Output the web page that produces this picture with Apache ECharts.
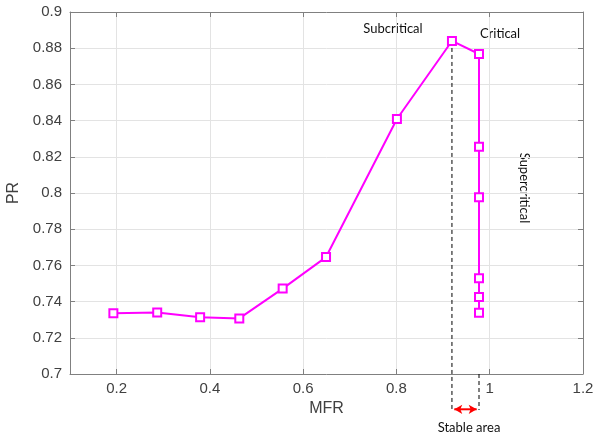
<!DOCTYPE html>
<html>
<head>
<meta charset="utf-8">
<script src="https://cdn.jsdelivr.net/npm/echarts@6/dist/echarts.min.js"></script>
<style>html,body{margin:0;padding:0;background:#fff}#c{width:595px;height:435px}</style>
</head>
<body>
<div id="c"></div>
<script>
// Data
const mfr = [0.193, 0.287, 0.379, 0.463, 0.556, 0.649, 0.801, 0.919, 0.977, 0.977, 0.977, 0.977, 0.977, 0.977];
const pr  = [0.7335, 0.7340, 0.7313, 0.7307, 0.7472, 0.7646, 0.8409, 0.8840, 0.8768, 0.8255, 0.7976, 0.7529, 0.7425, 0.7338];
const xTicks = [0.2, 0.4, 0.6, 0.8, 1.0, 1.2];
const subcriticalLineX = 0.919;
const criticalLineX = 0.977;
const peakPR = 0.884;
const annotationBottom = 0.6801;
const arrowY = 0.6805;
const arrowEnds = [0.924, 0.972];

const chart = echarts.init(document.getElementById('c'));
const axisColor = '#808080';
const labelColor = '#404040';
const font = 'Liberation Sans';

const points = mfr.map((x, i) => [x, pr[i]]);

chart.setOption({
  animation: false,
  backgroundColor: '#fff',
  grid: { left: 70, right: 12, top: 12, bottom: 61, outerBoundsMode: 'none', containLabel: false },
  xAxis: [{
    type: 'value', min: 0.1, max: 1.2, position: 'bottom',
    name: 'MFR', nameLocation: 'middle', nameGap: 22,
    nameTextStyle: { color: labelColor, fontSize: 16, fontFamily: font },
    axisLine: { show: true, onZero: false, lineStyle: { color: axisColor, width: 1 } },
    axisTick: { show: true, inside: true, length: 5, customValues: xTicks, lineStyle: { color: axisColor } },
    axisLabel: { customValues: xTicks, color: labelColor, fontSize: 15, fontFamily: font, margin: 7 },
    splitLine: { show: true, lineStyle: { color: '#e3e3e3', width: 1 } }
  }, {
    type: 'value', min: 0.1, max: 1.2, position: 'top',
    axisLine: { show: true, onZero: false, lineStyle: { color: axisColor, width: 1 } },
    axisTick: { show: true, inside: true, length: 5, customValues: xTicks, lineStyle: { color: axisColor } },
    axisLabel: { show: false },
    splitLine: { show: false }
  }],
  yAxis: [{
    type: 'value', min: 0.7, max: 0.9, interval: 0.02, position: 'left',
    name: 'PR', nameLocation: 'middle', nameGap: 48, nameRotate: 90,
    nameTextStyle: { color: labelColor, fontSize: 16, fontFamily: font },
    axisLine: { show: true, onZero: false, lineStyle: { color: axisColor, width: 1 } },
    axisTick: { show: true, inside: true, length: 5, lineStyle: { color: axisColor } },
    axisLabel: { color: labelColor, fontSize: 15, fontFamily: font, margin: 8 },
    splitLine: { show: true, lineStyle: { color: '#e3e3e3', width: 1 } }
  }, {
    type: 'value', min: 0.7, max: 0.9, interval: 0.02, position: 'right',
    axisLine: { show: true, onZero: false, lineStyle: { color: axisColor, width: 1 } },
    axisTick: { show: true, inside: true, length: 5, lineStyle: { color: axisColor } },
    axisLabel: { show: false },
    splitLine: { show: false }
  }],
  series: [{
    type: 'line',
    data: [[subcriticalLineX, peakPR], [subcriticalLineX, annotationBottom]],
    symbol: 'none', clip: false, z: 1,
    lineStyle: { color: '#000', width: 1, type: [4, 3] }
  }, {
    type: 'line',
    data: [[criticalLineX, 0.7], [criticalLineX, annotationBottom]],
    symbol: 'none', clip: false, z: 1,
    lineStyle: { color: '#000', width: 1, type: [4, 3] }
  }, {
    type: 'line',
    clip: false, z: 2,
    data: [
      { value: [arrowEnds[0], arrowY], symbolRotate: 90 },
      { value: [arrowEnds[1], arrowY], symbolRotate: -90 }
    ],
    symbol: 'arrow', symbolSize: [7, 8], showSymbol: true,
    lineStyle: { color: '#ff0000', width: 2 },
    itemStyle: { color: '#ff0000', borderWidth: 0 }
  }, {
    type: 'line',
    data: points,
    z: 3,
    symbol: 'emptyRect', symbolSize: 8,
    lineStyle: { color: '#ff00ff', width: 2 },
    itemStyle: { color: '#ff00ff', borderColor: '#ff00ff', borderWidth: 2 }
  }],
  graphic: [
    { type: 'text', x: 393, y: 29, style: { text: 'Subcritical', fill: '#111', font: '13px Lato', align: 'center', verticalAlign: 'middle' } },
    { type: 'text', x: 500, y: 34, style: { text: 'Critical', fill: '#111', font: '13px Lato', align: 'center', verticalAlign: 'middle' } },
    { type: 'text', x: 524, y: 188, rotation: -Math.PI / 2, style: { text: 'Supercritical', fill: '#111', font: '13px Lato', align: 'center', verticalAlign: 'middle' } },
    { type: 'text', x: 469, y: 428, style: { text: 'Stable area', fill: '#111', font: '13px Lato', align: 'center', verticalAlign: 'middle' } }
  ]
});
</script>
</body>
</html>
